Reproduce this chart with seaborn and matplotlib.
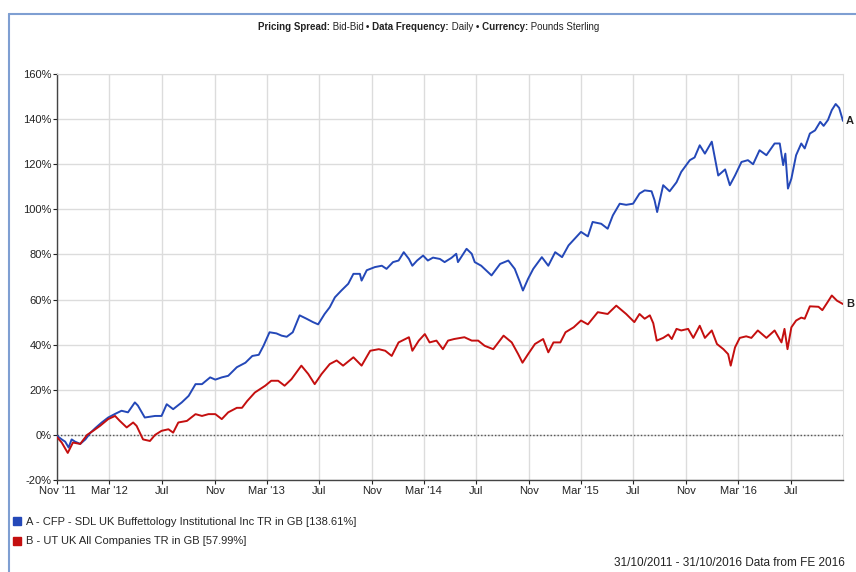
import pandas as pd
import seaborn as sns
import matplotlib.pyplot as plt
from matplotlib.lines import Line2D

# Fund A - CFP SDL UK Buffettology (cumulative % return)
dates_a = ['2011-10-31', '2011-11-11', '2011-11-19', '2011-11-27', '2011-12-04', '2011-12-12', '2011-12-24',
           '2012-01-05', '2012-01-17', '2012-01-28', '2012-02-12', '2012-02-27', '2012-03-14', '2012-03-29',
           '2012-04-13', '2012-04-29', '2012-05-06', '2012-05-22', '2012-06-15', '2012-06-30', '2012-07-12',
           '2012-07-27', '2012-08-16', '2012-09-01', '2012-09-17', '2012-10-02', '2012-10-21', '2012-11-02',
           '2012-11-17', '2012-12-02', '2012-12-22', '2013-01-11', '2013-01-27', '2013-02-11', '2013-02-22',
           '2013-03-08', '2013-03-24', '2013-04-05', '2013-04-17', '2013-05-01', '2013-05-17', '2013-06-02',
           '2013-06-17', '2013-06-29', '2013-07-14', '2013-07-26', '2013-08-07', '2013-08-22', '2013-09-07',
           '2013-09-19', '2013-10-04', '2013-10-08', '2013-10-20', '2013-11-08', '2013-11-24', '2013-12-05',
           '2013-12-20', '2014-01-02', '2014-01-14', '2014-01-26', '2014-02-03', '2014-02-14', '2014-02-28',
           '2014-03-11', '2014-03-23', '2014-04-08', '2014-04-19', '2014-05-05', '2014-05-16', '2014-05-20',
           '2014-06-09', '2014-06-21', '2014-06-28', '2014-07-13', '2014-08-06', '2014-08-26', '2014-09-14',
           '2014-09-29', '2014-10-11', '2014-10-18', '2014-10-30', '2014-11-11', '2014-12-01', '2014-12-16',
           '2015-01-01', '2015-01-17', '2015-02-01', '2015-02-19', '2015-03-02', '2015-03-18', '2015-03-29',
           '2015-04-18', '2015-05-03', '2015-05-15', '2015-05-31', '2015-06-15', '2015-07-01', '2015-07-16',
           '2015-07-28', '2015-08-13', '2015-08-20', '2015-08-26', '2015-09-09', '2015-09-24', '2015-10-10',
           '2015-10-21', '2015-11-10', '2015-11-21', '2015-12-03', '2015-12-15', '2015-12-31', '2016-01-15',
           '2016-01-31', '2016-02-11', '2016-02-23', '2016-03-09', '2016-03-24', '2016-04-05', '2016-04-20',
           '2016-05-06', '2016-05-25', '2016-06-06', '2016-06-14', '2016-06-19', '2016-06-25', '2016-07-03',
           '2016-07-14', '2016-07-26', '2016-08-03', '2016-08-15', '2016-08-27', '2016-09-08', '2016-09-16',
           '2016-09-26', '2016-10-05', '2016-10-14', '2016-10-22', '2016-10-31']
values_a = [-0.4, -2, -3, -5.6, -2, -3, -4,
            -2, 1, 3, 5.5, 7.7, 9.3, 10.7,
            10, 14.4, 13, 7.7, 8.4, 8.4, 13.6,
            11.4, 14.4, 17.3, 22.5, 22.5, 25.5, 24.5,
            25.5, 26.2, 30, 32, 35, 35.5, 39.5,
            45.5, 45, 44, 43.5, 45.5, 53, 51.5,
            50, 49, 53.6, 56.6, 61, 64, 67,
            71.4, 71.4, 68.4, 73, 74.4, 75, 73.6,
            76.6, 77.3, 81, 78, 75, 77.3, 79.5,
            77.3, 78.6, 78, 76.6, 78.5, 80.3, 76.6,
            82.5, 80.3, 76.6, 75, 70.7, 75.8, 77.3,
            73.6, 67.7, 64, 69.2, 73.6, 78.8, 75,
            81, 78.8, 84, 87.7, 90, 88, 94.4,
            93.6, 91.4, 97.3, 102.5, 102, 102.5, 107,
            108.4, 108, 104, 98.8, 110.7, 108, 112,
            116.6, 121.8, 123, 128.4, 124.7, 130, 115,
            117.7, 110.7, 115, 121, 121.8, 120, 126.2,
            124, 129.2, 129.2, 119.6, 124.7, 109.2, 113.6,
            124, 129.2, 127, 133.6, 135, 138.8, 137,
            139.6, 144, 146.7, 145, 139.2]

# Sector B - UT UK All Companies
dates_b = ['2011-10-31', '2011-11-11', '2011-11-25', '2011-12-07', '2011-12-24', '2012-01-09', '2012-01-23',
           '2012-02-08', '2012-02-27', '2012-03-14', '2012-03-25', '2012-04-10', '2012-04-25', '2012-05-03',
           '2012-05-18', '2012-06-03', '2012-06-15', '2012-06-30', '2012-07-16', '2012-07-27', '2012-08-08',
           '2012-08-28', '2012-09-17', '2012-10-02', '2012-10-17', '2012-11-02', '2012-11-17', '2012-12-02',
           '2012-12-22', '2013-01-03', '2013-01-15', '2013-02-02', '2013-02-26', '2013-03-12', '2013-03-28',
           '2013-04-12', '2013-04-28', '2013-05-21', '2013-06-06', '2013-06-21', '2013-07-07', '2013-07-26',
           '2013-08-11', '2013-08-26', '2013-09-19', '2013-10-08', '2013-10-28', '2013-11-17', '2013-12-02',
           '2013-12-17', '2014-01-02', '2014-01-26', '2014-02-03', '2014-02-18', '2014-03-04', '2014-03-15',
           '2014-03-31', '2014-04-15', '2014-04-27', '2014-05-11', '2014-06-04', '2014-06-21', '2014-07-06',
           '2014-07-21', '2014-08-10', '2014-09-03', '2014-09-22', '2014-10-07', '2014-10-17', '2014-10-30',
           '2014-11-15', '2014-12-04', '2014-12-16', '2014-12-28', '2015-01-13', '2015-01-25', '2015-02-13',
           '2015-03-02', '2015-03-18', '2015-04-10', '2015-05-03', '2015-05-23', '2015-06-15', '2015-07-04',
           '2015-07-16', '2015-07-28', '2015-08-09', '2015-08-17', '2015-08-25', '2015-09-09', '2015-09-21',
           '2015-09-29', '2015-10-10', '2015-10-21', '2015-11-06', '2015-11-18', '2015-12-03', '2015-12-15',
           '2015-12-31', '2016-01-12', '2016-01-27', '2016-02-07', '2016-02-13', '2016-02-23', '2016-03-05',
           '2016-03-20', '2016-04-01', '2016-04-16', '2016-05-06', '2016-05-25', '2016-06-10', '2016-06-17',
           '2016-06-24', '2016-07-03', '2016-07-14', '2016-07-26', '2016-08-03', '2016-08-15', '2016-09-04',
           '2016-09-13', '2016-09-25', '2016-10-05', '2016-10-17', '2016-10-31']
values_b = [-1, -3.4, -8, -3.4, -4, 0, 1.8,
            4, 7, 8.4, 6.2, 3.3, 5.5, 4,
            -2, -2.7, 0, 1.8, 2.5, 1, 5.5,
            6.2, 9.2, 8.4, 9.2, 9.2, 7, 10,
            12, 12, 15, 18.8, 21.8, 24, 24,
            21.8, 24.7, 30.7, 27, 22.5, 27, 31.4,
            33, 30.7, 34.4, 30.7, 37.3, 38, 37.3,
            35, 41, 43.3, 37.3, 41.8, 44.7, 41,
            41.8, 38, 41.8, 42.5, 43.3, 41.8, 41.8,
            39.5, 38, 44, 41, 35.8, 32, 35.8,
            40.3, 42.5, 36.6, 41, 41, 45.5, 47.7,
            50.7, 49, 54.4, 53.6, 57.3, 53.6, 50,
            53.6, 51.5, 53, 49.5, 41.8, 43, 44.5,
            42.5, 47, 46.3, 47, 43, 48.4, 43,
            46.3, 40.3, 38, 35.8, 30.7, 38.8, 43,
            43.7, 43, 46.3, 43, 46.3, 41, 47,
            38, 47.7, 50.7, 52, 51.5, 57, 56.8,
            55.3, 58.8, 61.8, 59.5, 58]

series_names = ['A', 'B']
series_colors = ['#2448b8', '#c40f0f']
legend_labels = ['A - CFP - SDL UK Buffettology Institutional Inc TR in GB [138.61%]',
                 'B - UT UK All Companies TR in GB [57.99%]']
tick_dates = pd.date_range('2011-11-01', '2016-07-01', freq='4MS')
tick_labels = ["Nov '11", "Mar '12", 'Jul', 'Nov', "Mar '13", 'Jul', 'Nov', "Mar '14", 'Jul',
               'Nov', "Mar '15", 'Jul', 'Nov', "Mar '16", 'Jul']
y_ticks = [-20, 0, 20, 40, 60, 80, 100, 120, 140, 160]

df = pd.concat([
    pd.DataFrame({'date': pd.to_datetime(dates_a), 'value': values_a, 'series': 'A'}),
    pd.DataFrame({'date': pd.to_datetime(dates_b), 'value': values_b, 'series': 'B'}),
])

sns.set_style('white')
plt.rcParams['font.family'] = ['Liberation Sans', 'DejaVu Sans']

fig = plt.figure(figsize=(8.56, 5.72), dpi=100)
ax = fig.add_axes([57 / 856, 1 - 480 / 572, 786 / 856, 406 / 572])

sns.lineplot(data=df, x='date', y='value', hue='series', hue_order=series_names,
             palette=series_colors, estimator=None, linewidth=1.4, legend=False, ax=ax, zorder=3)

ax.axhline(0, color='#555555', lw=1.0, ls=(0, (1, 1.5)), zorder=2)

ax.set_xlim(pd.Timestamp('2011-10-31'), pd.Timestamp('2016-10-31'))
ax.set_ylim(-20, 160)
ax.set_xticks(tick_dates)
ax.set_xticklabels(tick_labels)
ax.set_yticks(y_ticks)
ax.set_yticklabels([f'{v}%' for v in y_ticks])
ax.set_xlabel('')
ax.set_ylabel('')
ax.grid(True, color='#dcdcdc', lw=1)
ax.tick_params(axis='both', labelsize=8, colors='#222222', length=3, width=0.8, pad=1,
               bottom=True, left=True)
for side in ['top', 'right']:
    ax.spines[side].set_color('#dcdcdc')
for side in ['left', 'bottom']:
    ax.spines[side].set_color('#444444')
    ax.spines[side].set_linewidth(1.0)

# end labels
for name, vals in zip(series_names, [values_a, values_b]):
    ax.annotate(name, xy=(1, vals[-1]), xycoords=('axes fraction', 'data'), xytext=(2, 0),
                textcoords='offset points', fontsize=8, fontweight='bold', va='center', ha='left',
                color='#222222')

# header: mixed bold / regular pieces on one baseline
parts = [('Pricing Spread:', 'bold'), (' Bid-Bid ', 'normal'), ('\u2022 Data Frequency:', 'bold'),
         (' Daily ', 'normal'), ('\u2022 Currency:', 'bold'), (' Pounds Sterling', 'normal')]
head_y = 1 - 30 / 572
prev = fig.text(258 / 856, head_y, parts[0][0], fontsize=7, fontweight=parts[0][1], color='#222222')
for txt, w in parts[1:]:
    prev = ax.annotate(txt, xy=(1, head_y), xycoords=(prev, 'figure fraction'), fontsize=7,
                       fontweight=w, color='#222222', annotation_clip=False)

# legend
handles = [Line2D([], [], marker='s', ls='', markersize=6, color=c) for c in series_colors]
fig.legend(handles, legend_labels, loc='upper left', bbox_to_anchor=(14 / 856, 1 - 517 / 572),
           frameon=False, fontsize=8, handlelength=0.6, handletextpad=0.5, labelspacing=0.85,
           borderaxespad=0, borderpad=0)

fig.text(845 / 856, 1 - 566 / 572, '31/10/2011 - 31/10/2016 Data from FE 2016', ha='right',
         fontsize=8.5, color='#222222')

# outer frame
frame_color = '#7f9fd2'
fig.add_artist(Line2D([9 / 856, 9 / 856], [0, 1 - 14 / 572], transform=fig.transFigure,
                      color=frame_color, lw=1.5))
fig.add_artist(Line2D([9 / 856, 1], [1 - 14 / 572, 1 - 14 / 572], transform=fig.transFigure,
                      color=frame_color, lw=1.5))

fig.savefig('out.png', dpi=100)
